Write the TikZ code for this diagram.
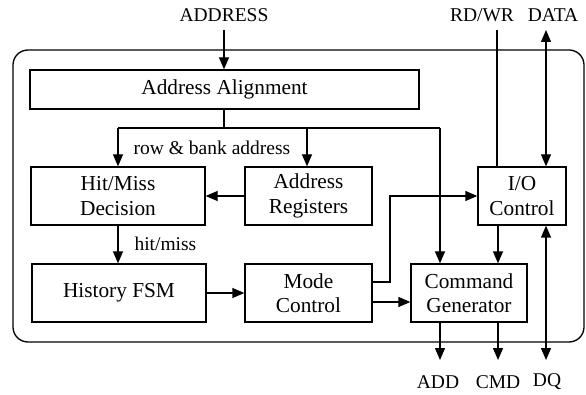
\documentclass[tikz,border=0pt]{standalone}
\usepackage{fontspec}
\setmainfont{Liberation Serif}
\usetikzlibrary{arrows.meta}
\begin{document}
\begin{tikzpicture}[x=1pt,y=-1pt,
  every node/.style={font=\fontsize{19.5}{22}\selectfont},
  blk/.style={draw,line width=1.3pt,inner sep=0pt,align=center,font=\fontsize{21.3}{24.5}\selectfont},
  ln/.style={line width=1.3pt},
  ar/.style={line width=1.3pt,-{Triangle[length=12pt,width=10pt]}},
  dar/.style={line width=1.3pt,{Triangle[length=12pt,width=10pt]}-{Triangle[length=12pt,width=10pt]}}]
\useasboundingbox (0,0) rectangle (586,395);
\draw[line width=1.3pt,rounded corners=15pt] (13,50) rectangle (584,342);
\node[blk,minimum width=389pt,minimum height=39pt] (aa) at (224.5,89.5) {Address Alignment};
\node[blk,minimum width=174pt,minimum height=58pt] (hm) at (118,196) {Hit/Miss\\Decision};
\node[blk,minimum width=127pt,minimum height=58pt] (ar) at (308.5,196) {Address\\Registers};
\node[blk,minimum width=88pt,minimum height=58pt] (io) at (522,196) {I/O\\Control};
\node[blk,minimum width=174pt,minimum height=58pt] (fsm) at (119,293) {History FSM};
\node[blk,minimum width=127pt,minimum height=58pt] (mc) at (308.5,293) {Mode\\Control};
\node[blk,minimum width=116pt,minimum height=58pt] (cg) at (469,293) {Command\\Generator};
% outside labels
\node (laddr) at (224,15) {ADDRESS};
\node (lrw) at (482,15) {RD/WR};
\node (ldata) at (553,15) {DATA};
\node (ladd) at (438,382) {ADD};
\node (lcmd) at (498,382) {CMD};
\node (ldq) at (547,382) {DQ};
\node (lrb) at (212,148) {row \& bank address};
\node[anchor=west] (lhm) at (131,244) {hit/miss};
% coordinates
\coordinate (addrtop) at (224,30);
\coordinate (rwtop) at (497,30);
\coordinate (datatop) at (546,30);
\coordinate (dqbot) at (546,360);
\coordinate (addbot) at (440,360);
\coordinate (cmdbot) at (498,360);
\coordinate (split) at (224,128);
\coordinate (bl) at (118,128);
\coordinate (bm) at (307,128);
\coordinate (br) at (440,128);
\coordinate (bend) at (390,282);
% connectors
\draw[ar] (addrtop) -- (aa.north -| addrtop);
\draw[ln] (aa.south -| split) -- (split);
\draw[ln] (bl) -- (br);
\draw[ar] (bl) -- (hm.north -| bl);
\draw[ar] (bm) -- (ar.north -| bm);
\draw[ar] (br) -- (cg.north -| br);
\draw[ar] (ar.west) -- (hm.east);
\draw[ar] (hm.south) -- (fsm.north -| hm.south);
\draw[ar] (fsm.east |- mc.west) -- (mc.west);
\draw[ar] (mc.east |- 0,302) -- (cg.west |- 0,302);
\draw[ar] (mc.east |- bend) -- (bend) |- (io.west);
\draw[ar] (io.south -| cmdbot) -- (cg.north -| cmdbot);
\draw[ln] (rwtop) -- (io.north -| rwtop);
\draw[dar] (datatop) -- (io.north -| datatop);
\draw[dar] (io.south -| dqbot) -- (dqbot);
\draw[ar] (cg.south -| addbot) -- (addbot);
\draw[ar] (cg.south -| cmdbot) -- (cmdbot);
\end{tikzpicture}
\end{document}
